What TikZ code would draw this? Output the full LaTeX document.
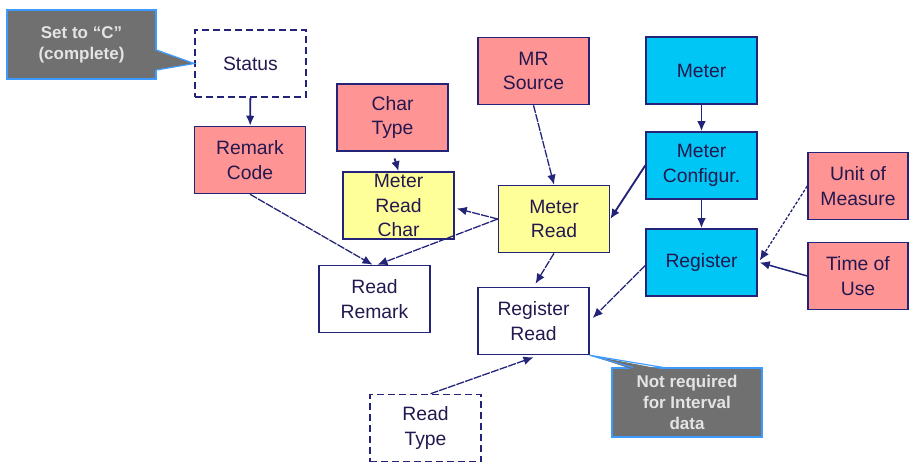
\documentclass[tikz,border=0pt]{standalone}
\usepackage{fontspec}
\setmainfont{Liberation Sans}
\usetikzlibrary{arrows.meta,calc}

\definecolor{boxline}{HTML}{23237A}
\definecolor{boxtext}{HTML}{24184F}
\definecolor{keypink}{HTML}{FF9494}
\definecolor{readyellow}{HTML}{FFFF99}
\definecolor{metercyan}{HTML}{00C6F5}
\definecolor{notegray}{HTML}{707070}
\definecolor{noteline}{HTML}{3D9BFF}
\definecolor{notetext}{HTML}{E4E4E4}

\tikzset{
  entity/.style={draw=boxline, line width=1.3pt, text=boxtext, align=center,
    minimum width=33.3mm, minimum height=20.1mm, inner sep=0pt,
    font=\fontsize{16.5}{21}\selectfont},
  keybox/.style={entity, fill=keypink},
  readbox/.style={entity, fill=readyellow},
  meterbox/.style={entity, fill=metercyan},
  optbox/.style={entity, dash pattern=on 2.1mm off 1.2mm},
  link/.style={draw=boxline, line width=1.6pt, -{Latex[length=3mm,width=2.6mm]}},
  thinlink/.style={link, line width=1.1pt, dash pattern=on 2.4mm off 0.35mm},
  notebox/.style={fill=notegray, draw=noteline, line width=1pt, text=notetext,
    align=center, inner sep=0pt, minimum height=20.7mm,
    font=\fontsize{14.5}{18}\selectfont\bfseries}
}

\begin{document}
\begin{tikzpicture}[x=0.3mm, y=-0.3mm]
    \useasboundingbox (0,0) rectangle (910,464);

    % Remark side
    \node[optbox] (status) at (250.5,63.5) {Status};
    \node[keybox] (remcode) at (250,160) {Remark\\Code};
    \node[entity] (readremark) at (374.5,299) {Read\\Remark};

    % Meter read and characteristics
    \node[keybox] (chartype) at (392.5,117.5) {Char\\Type};
    \node[readbox] (mrchar) at (398.5,205.5) {Meter\\Read\\Char};
    \node[keybox] (mrsource) at (533.5,71) {MR\\Source};
    \node[readbox] (meterread) at (554,219) {Meter\\Read};

    % Meter, configuration and register
    \node[meterbox] (meter) at (701.5,70.5) {Meter};
    \node[meterbox] (metercfg) at (701.5,165.5) {Meter\\Configur.};
    \node[meterbox] (register) at (701.5,262.5) {Register};
    \node[keybox, minimum width=30mm] (uom) at (858,186) {Unit of\\Measure};
    \node[keybox, minimum width=30mm] (tou) at (858,276) {Time of\\Use};

    % Register read
    \node[entity] (regread) at (533.5,321) {Register\\Read};
    \node[optbox] (readtype) at (425.5,428) {Read\\Type};

    % Links
    \draw[link] (status) -- (remcode);
    \draw[thinlink] (remcode.south) -- ($(readremark.north)+(-2,0)$);
    \draw[thinlink] (meterread.west) -- ($(mrchar.east)+(2,3)$);
    \draw[thinlink] (meterread.west) -- ($(readremark.north)+(3,0)$);
    \draw[link, shorten <=6pt] (chartype.south) -- (mrchar.north);
    \draw[thinlink] (mrsource.south) -- (meterread.north);
    \draw[link] (meter) -- (metercfg);
    \draw[link] (metercfg) -- (register);
    \draw[link] (metercfg.west) -- (meterread.east);
    \draw[thinlink, dash pattern=on 0.9mm off 0.5mm] (uom.west) -- ($(register.east)+(2,-2)$);
    \draw[link, line width=1.3pt] (tou.west) -- ($(register.east)+(2,0)$);
    \draw[thinlink] ($(register.west)+(0,3)$) -- ($(regread.east)+(3,-3)$);
    \draw[thinlink] (meterread.south) -- ($(regread.north)+(2,-3)$);
    \draw[thinlink] ($(readtype.north)+(5,0)$) -- ($(regread.south)+(0,2)$);

    % Callout on Status
    \node[notebox, minimum width=44.7mm] (setnote) at (81.5,44.5) {Set to “C”\\(complete)};
    \fill[notegray] ($(setnote.east)+(-2,5.5)$) -- (status.west) -- ($(setnote.east)+(-2,25.5)$) -- cycle;
    \draw[noteline, line width=1pt] ($(setnote.east)+(0,5.5)$) -- (status.west) -- ($(setnote.east)+(0,25.5)$);

    % Callout on Register Read
    \node[notebox, minimum width=45mm] (intnote) at (687,402.5) {Not required\\for Interval\\data};
    \fill[notegray] ($(intnote.north)+(-54,2)$) -- (regread.south east) -- ($(intnote.north)+(-24,2)$) -- cycle;
    \draw[noteline, line width=1pt] ($(intnote.north)+(-54,0)$) -- (regread.south east) -- ($(intnote.north)+(-24,0)$);
\end{tikzpicture}
\end{document}
